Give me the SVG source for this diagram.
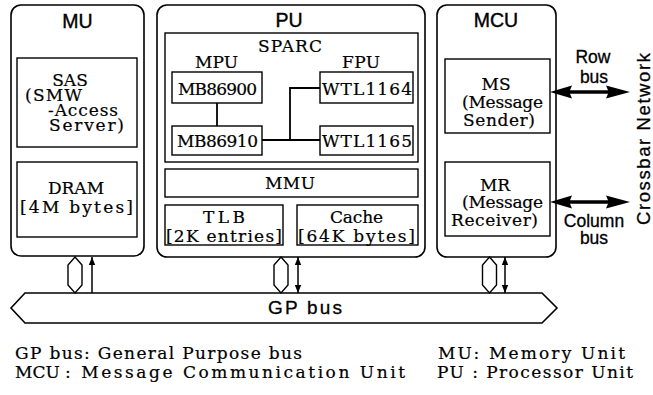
<svg xmlns="http://www.w3.org/2000/svg" xmlns:xlink="http://www.w3.org/1999/xlink" width="653" height="395" viewBox="0 0 653 395">
  <defs>
    <style>
      .unit { fill: #fff; stroke: #000; stroke-width: 1.6; }
      .box { fill: #fff; stroke: #000; stroke-width: 1.4; }
      .wire { fill: none; stroke: #000; stroke-width: 1.8; }
      .tap { fill: #fff; stroke: #000; stroke-width: 1.4; }
      .ptr { fill: none; stroke: #000; stroke-width: 1.5; }
      .sans { font-family: "Liberation Sans", Arial, sans-serif; fill: #000; stroke: #000; stroke-width: 0.3; }
      .serif { font-family: "DejaVu Serif", "Liberation Serif", serif; font-size: 17px; fill: #000; stroke: #000; stroke-width: 0.2; }
      .title { font-size: 19.5px; text-anchor: middle; stroke-width: 0.4; }
      .side { font-size: 17.5px; text-anchor: middle; }
      .mid { text-anchor: middle; }
    </style>
    <!-- small arrowhead for the GP bus taps -->
    <marker id="tip" viewBox="0 0 10 10" refX="10" refY="5" markerWidth="8" markerHeight="8" markerUnits="userSpaceOnUse" orient="auto-start-reverse">
      <path d="M0,1 L10,5 L0,9 Z" fill="#000"/>
    </marker>
    <!-- bundle symbol of a bus tap -->
    <polygon id="tap-shape" points="0,0 7,8 7,28 0,36 -7,28 -7,8"/>
    <!-- bold two-way arrow towards the crossbar network -->
    <path id="wide-arrow" d="M0,0 L22,-6.5 L20,-1.8 L58,-1.8 L56,-6.5 L80,0 L56,6.5 L58,1.8 L20,1.8 L22,6.5 Z"/>
  </defs>

  <rect width="653" height="395" fill="#fff"/>

  <!-- Memory Unit -->
  <g id="mu">
    <rect class="unit" x="11" y="5" width="133" height="251" rx="10"/>
    <text class="sans title" x="77.5" y="28">MU</text>
    <g id="sas">
      <rect class="box" x="17" y="58" width="120" height="89"/>
      <text class="serif mid" x="70" y="86">SAS</text>
      <text class="serif" x="25" y="101" textLength="57" lengthAdjust="spacing">(SMW</text>
      <text class="serif" x="48" y="116" textLength="70" lengthAdjust="spacing">-Access</text>
      <text class="serif" x="49" y="131" textLength="75" lengthAdjust="spacing">Server)</text>
    </g>
    <g id="dram">
      <rect class="box" x="17" y="162" width="120" height="75"/>
      <text class="serif mid" x="76" y="194">DRAM</text>
      <text class="serif" x="20" y="213" textLength="113" lengthAdjust="spacing">[4M bytes]</text>
    </g>
  </g>

  <!-- Processor Unit -->
  <g id="pu">
    <rect class="unit" x="157" y="5" width="268" height="252" rx="10"/>
    <text class="sans title" x="289" y="27">PU</text>
    <g id="sparc">
      <rect class="box" x="165" y="33" width="253" height="129"/>
      <text class="serif" x="258" y="52" textLength="64" lengthAdjust="spacing">SPARC</text>
      <text class="serif" x="195" y="68" textLength="43" lengthAdjust="spacing">MPU</text>
      <text class="serif" x="342" y="68" textLength="38" lengthAdjust="spacing">FPU</text>
    </g>
    <g id="mb86900">
      <rect class="box" x="172" y="72" width="90" height="31"/>
      <text class="serif" x="178" y="95" textLength="79" lengthAdjust="spacing">MB86900</text>
    </g>
    <g id="mb86910">
      <rect class="box" x="172" y="126" width="90" height="29"/>
      <text class="serif" x="177" y="147" textLength="81" lengthAdjust="spacing">MB86910</text>
    </g>
    <g id="wtl1164">
      <rect class="box" x="320" y="72" width="93" height="31"/>
      <text class="serif" x="322" y="95" textLength="90" lengthAdjust="spacing">WTL1164</text>
    </g>
    <g id="wtl1165">
      <rect class="box" x="320" y="126" width="93" height="29"/>
      <text class="serif" x="322" y="147" textLength="90" lengthAdjust="spacing">WTL1165</text>
    </g>
    <g id="mmu">
      <rect class="box" x="165" y="169" width="253" height="28"/>
      <text class="serif" x="265" y="189" textLength="50" lengthAdjust="spacing">MMU</text>
    </g>
    <g id="tlb">
      <rect class="box" x="165" y="205" width="118" height="40"/>
      <text class="serif" x="203" y="223" textLength="42" lengthAdjust="spacing">TLB</text>
      <text class="serif" x="166" y="242" textLength="116" lengthAdjust="spacing">[2K entries]</text>
    </g>
    <g id="cache">
      <rect class="box" x="297" y="205" width="121" height="40"/>
      <text class="serif" x="330" y="223" textLength="53" lengthAdjust="spacing">Cache</text>
      <text class="serif" x="298" y="242" textLength="117" lengthAdjust="spacing">[64K bytes]</text>
    </g>
  </g>

  <!-- Message Communication Unit -->
  <g id="mcu">
    <rect class="unit" x="437" y="5" width="119" height="252" rx="10"/>
    <text class="sans title" x="496" y="27">MCU</text>
    <g id="ms">
      <rect class="box" x="445" y="59" width="105" height="74"/>
      <text class="serif mid" x="496" y="90">MS</text>
      <text class="serif" x="462" y="108" textLength="81" lengthAdjust="spacing">(Message</text>
      <text class="serif" x="463" y="126" textLength="72" lengthAdjust="spacing">Sender)</text>
    </g>
    <g id="mr">
      <rect class="box" x="445" y="162" width="105" height="74"/>
      <text class="serif mid" x="495" y="191">MR</text>
      <text class="serif" x="462" y="208" textLength="81" lengthAdjust="spacing">(Message</text>
      <text class="serif" x="451" y="226" textLength="87" lengthAdjust="spacing">Receiver)</text>
    </g>
  </g>

  <!-- General Purpose bus -->
  <g id="gp-bus">
    <polygon class="unit" points="11,308 25,293 542,293 557,308 542,323 25,323"/>
    <text class="sans" x="268" y="314" font-size="19" textLength="74" lengthAdjust="spacing">GP bus</text>
  </g>

  <!-- Crossbar network -->
  <g id="crossbar">
    <text class="sans" transform="translate(650,139) rotate(-90)" font-size="18.5" text-anchor="middle" textLength="172" lengthAdjust="spacing" stroke-width="0.4">Crossbar Network</text>
  </g>

  <g id="connectors">
    <!-- SPARC internal wiring -->
    <path class="wire" d="M217,103 V126"/>
    <path class="wire" d="M262,140 H320 M290,140 V88 H320"/>

    <!-- taps onto the GP bus -->
    <use xlink:href="#tap-shape" class="tap" x="75" y="257"/>
    <line class="ptr" x1="92" y1="293" x2="92" y2="257" marker-end="url(#tip)"/>
    <use xlink:href="#tap-shape" class="tap" x="281" y="257"/>
    <line class="ptr" x1="298" y1="257" x2="298" y2="293" marker-start="url(#tip)" marker-end="url(#tip)"/>
    <use xlink:href="#tap-shape" class="tap" x="489.5" y="257"/>
    <line class="ptr" x1="505" y1="257" x2="505" y2="293" marker-start="url(#tip)" marker-end="url(#tip)"/>

    <!-- row and column buses -->
    <use xlink:href="#wide-arrow" x="550" y="92"/>
    <text class="sans side" x="593" y="63">Row</text>
    <text class="sans side" x="594" y="83">bus</text>
    <use xlink:href="#wide-arrow" x="550" y="202"/>
    <text class="sans side" x="594" y="227">Column</text>
    <text class="sans side" x="594" y="244">bus</text>
  </g>

  <!-- key -->
  <g id="legend">
    <text class="serif" x="15" y="359" textLength="287" lengthAdjust="spacing">GP bus: General Purpose bus</text>
    <text class="serif" x="15" y="378">MCU</text>
    <text class="serif" x="65" y="378" textLength="340" lengthAdjust="spacing">: Message Communication Unit</text>
    <text class="serif" x="438" y="359" textLength="187" lengthAdjust="spacing">MU: Memory Unit</text>
    <text class="serif" x="437" y="378" textLength="196" lengthAdjust="spacing">PU : Processor Unit</text>
  </g>
</svg>
